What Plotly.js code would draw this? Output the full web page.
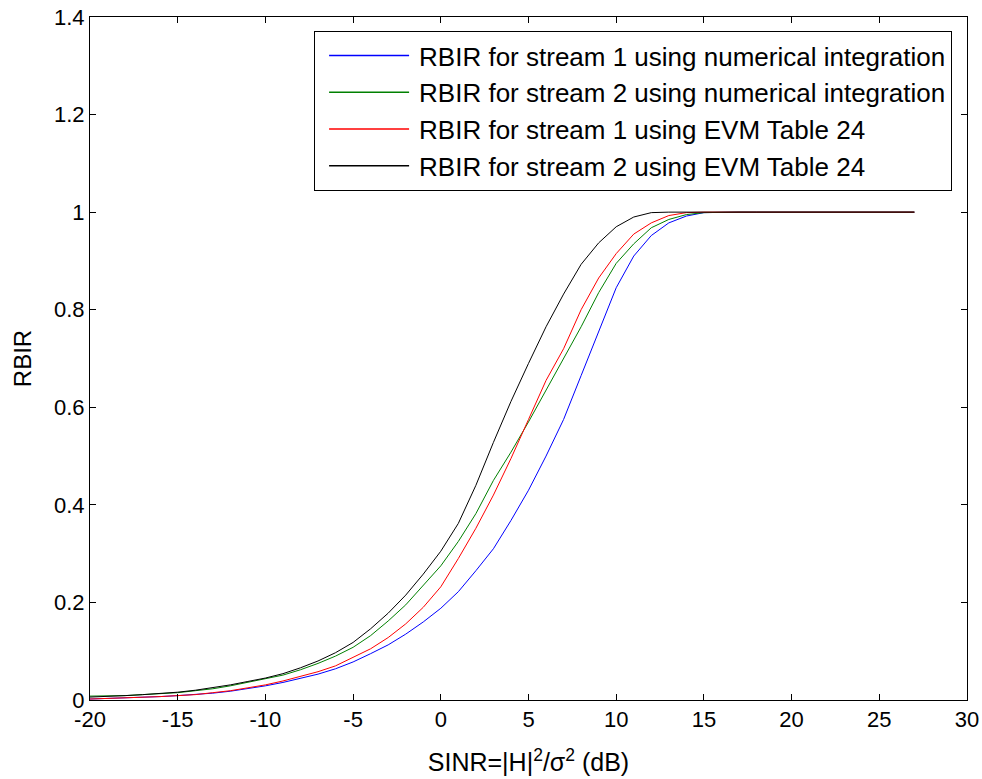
<!DOCTYPE html>
<html>
<head>
<meta charset="utf-8">
<script src="https://cdn.plot.ly/plotly-3.0.1.min.js"></script>
<style>html,body{margin:0;padding:0;background:#fff}#chart{width:982px;height:779px}</style>
</head>
<body>
<div id="chart"></div>
<script>
const sinr = [-20,-19,-18,-17,-16,-15,-14,-13,-12,-11,-10,-9,-8,-7,-6,-5,-4,-3,-2,-1,0,1,2,3,4,5,6,7,8,9,10,11,12,13,14,15,16,17,18,19,20,21,22,23,24,25,26,27];
const s1Numerical = [0.002,0.003,0.004,0.005,0.007,0.009,0.011,0.014,0.018,0.023,0.029,0.036,0.044,0.053,0.064,0.078,0.095,0.113,0.135,0.16,0.188,0.222,0.265,0.31,0.368,0.43,0.5,0.575,0.665,0.755,0.845,0.91,0.952,0.978,0.992,0.999,1,1,1,1,1,1,1,1,1,1,1,1];
const s2Numerical = [0.008,0.008,0.009,0.011,0.013,0.015,0.019,0.023,0.029,0.036,0.043,0.051,0.062,0.075,0.09,0.108,0.132,0.162,0.195,0.235,0.275,0.325,0.382,0.45,0.508,0.57,0.635,0.7,0.765,0.835,0.895,0.935,0.968,0.985,0.995,0.999,1,1,1,1,1,1,1,1,1,1,1,1];
const s1Evm = [0.002,0.003,0.004,0.005,0.007,0.009,0.011,0.015,0.019,0.025,0.031,0.039,0.048,0.058,0.07,0.087,0.105,0.128,0.156,0.19,0.232,0.29,0.352,0.42,0.495,0.575,0.655,0.72,0.8,0.865,0.915,0.955,0.978,0.993,0.999,1,1,1,1,1,1,1,1,1,1,1,1,1];
const s2Evm = [0.006,0.007,0.009,0.011,0.013,0.016,0.02,0.025,0.031,0.038,0.045,0.054,0.066,0.08,0.097,0.118,0.146,0.178,0.215,0.258,0.305,0.362,0.44,0.528,0.612,0.69,0.765,0.832,0.893,0.937,0.97,0.99,0.999,1,1,1,1,1,1,1,1,1,1,1,1,1,1,1];
const names = ["RBIR for stream 1 using numerical integration","RBIR for stream 2 using numerical integration","RBIR for stream 1 using EVM Table 24","RBIR for stream 2 using EVM Table 24"];
const colors = ["rgb(0,0,255)","rgb(0,128,0)","rgb(255,0,0)","rgb(0,0,0)"];
const series = [s1Numerical, s2Numerical, s1Evm, s2Evm];
const xTicks = [-20,-15,-10,-5,0,5,10,15,20,25,30];
const yTicks = [0,0.2,0.4,0.6,0.8,1,1.2,1.4];

const traces = series.map((ys,i)=>({x:sinr,y:ys,type:'scatter',mode:'lines',name:names[i],legendgroup:'g'+i,line:{color:colors[i],width:1}}));
const fam = 'Liberation Sans, Arial, sans-serif';
const tickFont = {family:fam,size:22,color:'#000'};
const layout = {
  width:982,height:779,
  margin:{l:90,r:15,t:17,b:79},
  paper_bgcolor:'#fff',plot_bgcolor:'#fff',
  font:tickFont,
  showlegend:true,
  legend:{x:0.983,y:0.9795,xanchor:'right',yanchor:'top',bgcolor:'#fff',bordercolor:'#000',borderwidth:1,font:{family:fam,size:26,color:'#000'},itemwidth:94,tracegroupgap:5,traceorder:'normal'},
  xaxis:{range:[-20,30],tickvals:xTicks,ticktext:xTicks.map(String),ticks:'inside',ticklen:6,tickcolor:'#000',mirror:'ticks',showline:true,linecolor:'#000',linewidth:1,showgrid:false,zeroline:false,
    title:{text:'SINR=|H|<sup>2</sup>/σ<sup>2</sup> (dB)',font:{family:fam,size:25,color:'#000'},standoff:22},tickfont:tickFont},
  yaxis:{range:[0,1.4],tickvals:yTicks,ticktext:yTicks.map(String),ticks:'inside',ticklen:6,tickcolor:'#000',mirror:'ticks',showline:true,linecolor:'#000',linewidth:1,showgrid:false,zeroline:false,
    title:{text:'RBIR',font:{family:fam,size:24,color:'#000'},standoff:15},tickfont:tickFont}
};
Plotly.newPlot('chart',traces,layout,{displayModeBar:false,staticPlot:true}).then(gd=>{
  gd.querySelectorAll('.legend .legendlines path').forEach(p=>{
    p.setAttribute('d','M14,0h80');
    p.style.strokeWidth='1.5px';
  });
});
</script>
</body>
</html>
